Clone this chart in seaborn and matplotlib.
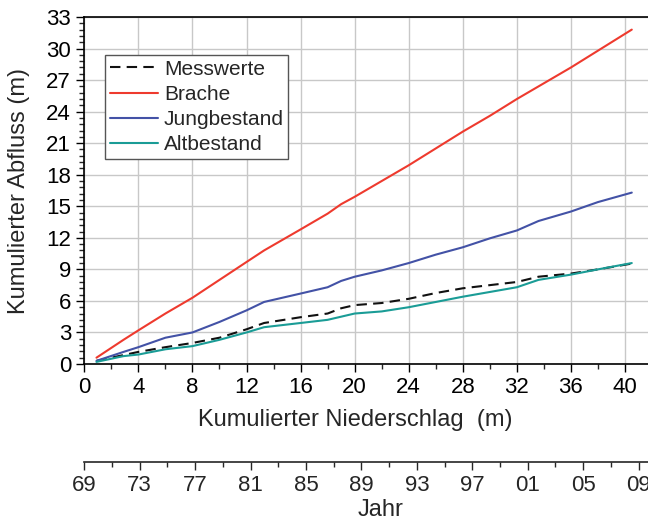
import numpy as np
import pandas as pd
import matplotlib
matplotlib.use("Agg")
import matplotlib.pyplot as plt
import seaborn as sns
from matplotlib.ticker import MultipleLocator, FuncFormatter
from matplotlib.lines import Line2D

# cumulative precipitation (m)
niederschlag = [0.9, 2.9, 4.0, 6.0, 8.0, 10.0, 12.0, 13.3, 16.0, 18.0, 19.0,
                20.0, 22.0, 24.0, 26.0, 28.0, 30.0, 32.0, 33.6, 36.0, 38.0, 40.5]

# cumulative runoff (m)
messwerte = [0.3, 0.85, 1.15, 1.6, 2.0, 2.5, 3.3, 3.9, 4.45, 4.8, 5.3,
             5.6, 5.8, 6.2, 6.75, 7.2, 7.5, 7.8, 8.3, 8.6, 9.0, 9.55]
brache = [0.6, 2.3, 3.2, 4.8, 6.3, 8.0, 9.7, 10.8, 12.8, 14.3, 15.2,
          15.9, 17.4, 18.9, 20.5, 22.1, 23.6, 25.2, 26.4, 28.2, 29.8, 31.8]
jungbestand = [0.3, 1.15, 1.6, 2.5, 3.0, 4.0, 5.1, 5.9, 6.7, 7.3, 7.9,
               8.3, 8.9, 9.6, 10.4, 11.1, 11.95, 12.7, 13.6, 14.5, 15.4, 16.3]
altbestand = [0.2, 0.75, 0.9, 1.4, 1.7, 2.3, 3.0, 3.5, 3.9, 4.2, 4.5,
              4.8, 5.0, 5.4, 5.9, 6.4, 6.85, 7.3, 8.0, 8.5, 9.0, 9.6]

serien = ["Messwerte", "Brache", "Jungbestand", "Altbestand"]
farben = {"Messwerte": "#111111", "Brache": "#EE3A2E",
          "Jungbestand": "#4352A6", "Altbestand": "#1A9C96"}
striche = {"Messwerte": (5, 3), "Brache": "", "Jungbestand": "", "Altbestand": ""}

df = pd.DataFrame({
    "x": niederschlag * 4,
    "y": messwerte + brache + jungbestand + altbestand,
    "Serie": np.repeat(serien, len(niederschlag)),
})

sns.set_style("ticks")
plt.rcParams["font.family"] = ["Liberation Sans", "DejaVu Sans"]

fig = plt.figure(figsize=(6.48, 5.2), dpi=100)
ax = fig.add_axes([84.3 / 648, 156 / 520, (648 - 84.3) / 648, 347 / 520])

sns.lineplot(data=df, x="x", y="y", hue="Serie", style="Serie",
             palette=farben, dashes=striche, hue_order=serien, style_order=serien,
             linewidth=1.5, ax=ax, legend=False)

ax.set_xlim(0, 41.7)
ax.set_ylim(0, 33)
ax.xaxis.set_major_locator(MultipleLocator(4))
ax.xaxis.set_minor_locator(MultipleLocator(2))
ax.yaxis.set_major_locator(MultipleLocator(3))
ax.yaxis.set_minor_locator(MultipleLocator(0.6))
ax.grid(True, which="major", color="#c8c8c8", linewidth=1.0)
ax.set_axisbelow(True)

for s in ["left", "bottom", "top"]:
    ax.spines[s].set_color("black")
    ax.spines[s].set_linewidth(1.2)
ax.spines["right"].set_visible(False)

ax.tick_params(which="major", direction="out", length=6, width=1.0, labelsize=16, colors="black")
ax.tick_params(which="minor", direction="out", length=3.5, width=1.0)
ax.tick_params(axis="x", which="both", top=False)

ax.set_xlabel("Kumulierter Niederschlag  (m)", fontsize=17)
ax.xaxis.set_label_coords(0.48, -0.13)
ax.set_ylabel("Kumulierter Abfluss (m)", fontsize=17)
ax.yaxis.set_label_coords(-0.097, 0.5)

# second axis with the years
def zu_jahr(x):
    return 1969 + np.asarray(x) * 40 / 41

def zu_x(j):
    return (np.asarray(j) - 1969) * 41 / 40

sec = ax.secondary_xaxis(-0.282, functions=(zu_jahr, zu_x))
sec.xaxis.set_major_locator(MultipleLocator(4, offset=1))
sec.xaxis.set_minor_locator(MultipleLocator(2, offset=1))
sec.xaxis.set_major_formatter(FuncFormatter(lambda v, p: f"{int(round(v)) % 100:02d}"))
sec.tick_params(which="major", direction="out", length=6, width=1.0, labelsize=16)
sec.tick_params(which="minor", direction="out", length=3.5, width=1.0)
sec.spines["bottom"].set_linewidth(1.2)
sec.set_xlabel("Jahr", fontsize=17, labelpad=2)
sec.xaxis.label.set_x(0.525)

# legend
handles = [Line2D([], [], color=farben[s], linewidth=1.5,
                  dashes=striche[s] if striche[s] else (None, None)) for s in serien]
leg = ax.legend(handles, serien, loc="upper left",
                bbox_to_anchor=(105 / 648, 1 - 55 / 520), bbox_transform=fig.transFigure,
                fontsize=15, frameon=True, fancybox=False, edgecolor="#555555",
                framealpha=1, handlelength=2.3, handletextpad=0.3,
                labelspacing=0.3, borderpad=0.22, borderaxespad=0)
leg.get_frame().set_linewidth(1.0)

fig.savefig("out.png", dpi=100)
